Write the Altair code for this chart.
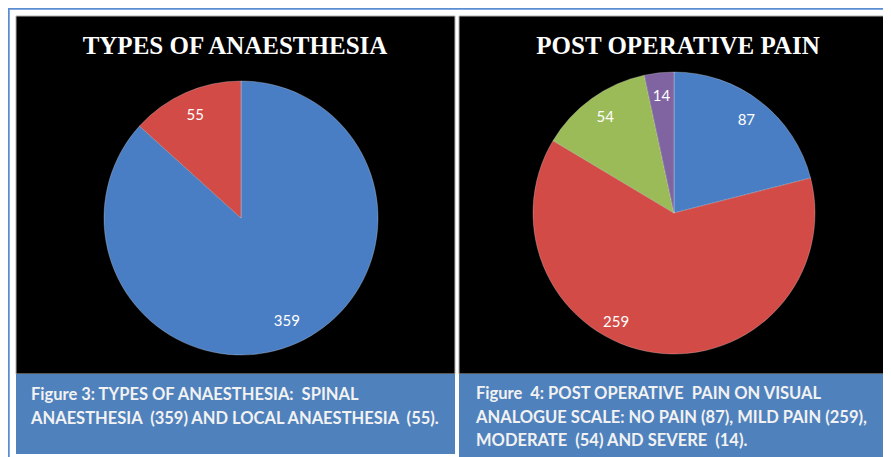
import altair as alt
import pandas as pd

# chart area: page width 891 minus the 8px body margins on both sides
W, H = 875, 449

# ---- data ----
anaes_types = ["Spinal anaesthesia", "Local anaesthesia"]
anaes_counts = [359, 55]

pain_levels = ["No pain", "Mild pain", "Moderate", "Severe"]
pain_counts = [87, 259, 54, 14]

titles = ["TYPES OF ANAESTHESIA", "POST OPERATIVE PAIN"]
NB = "\u00A0"
caption_left = [f"Figure 3: TYPES OF ANAESTHESIA:{NB} SPINAL",
                f"ANAESTHESIA{NB} (359) AND LOCAL ANAESTHESIA{NB} (55)."]
caption_right = [f"Figure{NB} 4: POST OPERATIVE{NB} PAIN ON VISUAL",
                 "ANALOGUE SCALE: NO PAIN (87), MILD PAIN (259),",
                 f"MODERATE{NB} (54) AND SEVERE{NB} (14)."]

color_domain = anaes_types + pain_levels
color_range = ["#4A7EC4", "#D24B47", "#4A7EC4", "#D24B47", "#9BBB59", "#8064A2"]

df_a = pd.DataFrame({"cat": anaes_types, "n": anaes_counts, "ord": list(range(len(anaes_types)))})
df_p = pd.DataFrame({"cat": pain_levels, "n": pain_counts, "ord": list(range(len(pain_levels)))})

dummy = alt.Data(values=[{}])


def rect(x1, x2, y1, y2, fill, stroke=None, sw=0):
    kw = dict(color=fill)
    if stroke:
        kw.update(stroke=stroke, strokeWidth=sw)
    return alt.Chart(dummy).mark_rect(**kw).encode(
        x=alt.value(x1), x2=alt.value(x2), y=alt.value(y1), y2=alt.value(y2))


def rule(x1, x2, y1, y2, color, sw):
    return alt.Chart(dummy).mark_rule(color=color, strokeWidth=sw).encode(
        x=alt.value(x1), x2=alt.value(x2), y=alt.value(y1), y2=alt.value(y2))


color = alt.Color("cat:N", scale=alt.Scale(domain=color_domain, range=color_range), legend=None)


def pie(df, cx, cy, r, lr, moved=None, mdx=0, mdy=0):
    base = alt.Chart(df).encode(
        theta=alt.Theta("n:Q", stack=True),
        order=alt.Order("ord:Q"),
        x=alt.value(cx), y=alt.value(cy))
    arcs = base.mark_arc(outerRadius=r, stroke="#ffffff", strokeOpacity=0.25,
                         strokeWidth=1).encode(color=color)
    style = dict(radius=lr, font="Lato", fontSize=15, color="white")
    if moved is None:
        return arcs + base.mark_text(**style).encode(text="n:Q")
    normal = base.mark_text(**style).encode(
        text=alt.condition(alt.datum.cat != moved, alt.Text("n:Q"), alt.value("")))
    shifted = base.mark_text(dx=mdx, dy=mdy, **style).encode(
        text=alt.condition(alt.datum.cat == moved, alt.Text("n:Q"), alt.value("")))
    return arcs + normal + shifted


def title(txt, cx, cy):
    return alt.Chart(dummy).mark_text(
        text=txt, font="Liberation Serif", fontWeight="bold", fontSize=25,
        color="white", align="center", baseline="middle").encode(
        x=alt.value(cx), y=alt.value(cy))


def caption(lines, x, y):
    return alt.Chart(dummy).mark_text(
        text="\n".join(lines), lineBreak="\n", lineHeight=23.5, font="Lato",
        fontWeight="bold", fontSize=16.5, color="#F2F2F2", align="left",
        baseline="top").encode(x=alt.value(x), y=alt.value(y))


layers = [
    rule(0, W, 0.5, 0.5, "#5B8DD3", 2.5),
    rule(0.5, 0.5, 0, H, "#5B8DD3", 2.5),
    rect(8, 447, 8, 366, "#000000", "#B0B0B0", 1),
    rect(8, 447, 366, 446, "#4F81BD"),
    rect(451, W + 2, 8, 366, "#000000", "#B0B0B0", 1),
    rect(451, W + 2, 366, H + 2, "#4F81BD"),
    title(titles[0], 227, 38),
    title(titles[1], 670, 38),
    pie(df_a, 233, 210, 137, 113),
    pie(df_p, 666, 205, 141, 118, moved="Mild pain", mdx=-41, mdy=-8),
    caption(caption_left, 23, 379),
    caption(caption_right, 468, 378),
]

chart = alt.layer(*layers).properties(
    width=W, height=H, padding=0, autosize=alt.AutoSizeParams(type="none"),
    background="white",
).configure_view(stroke=None)

chart.save("out.html", embed_options={"renderer": "svg", "actions": False})
